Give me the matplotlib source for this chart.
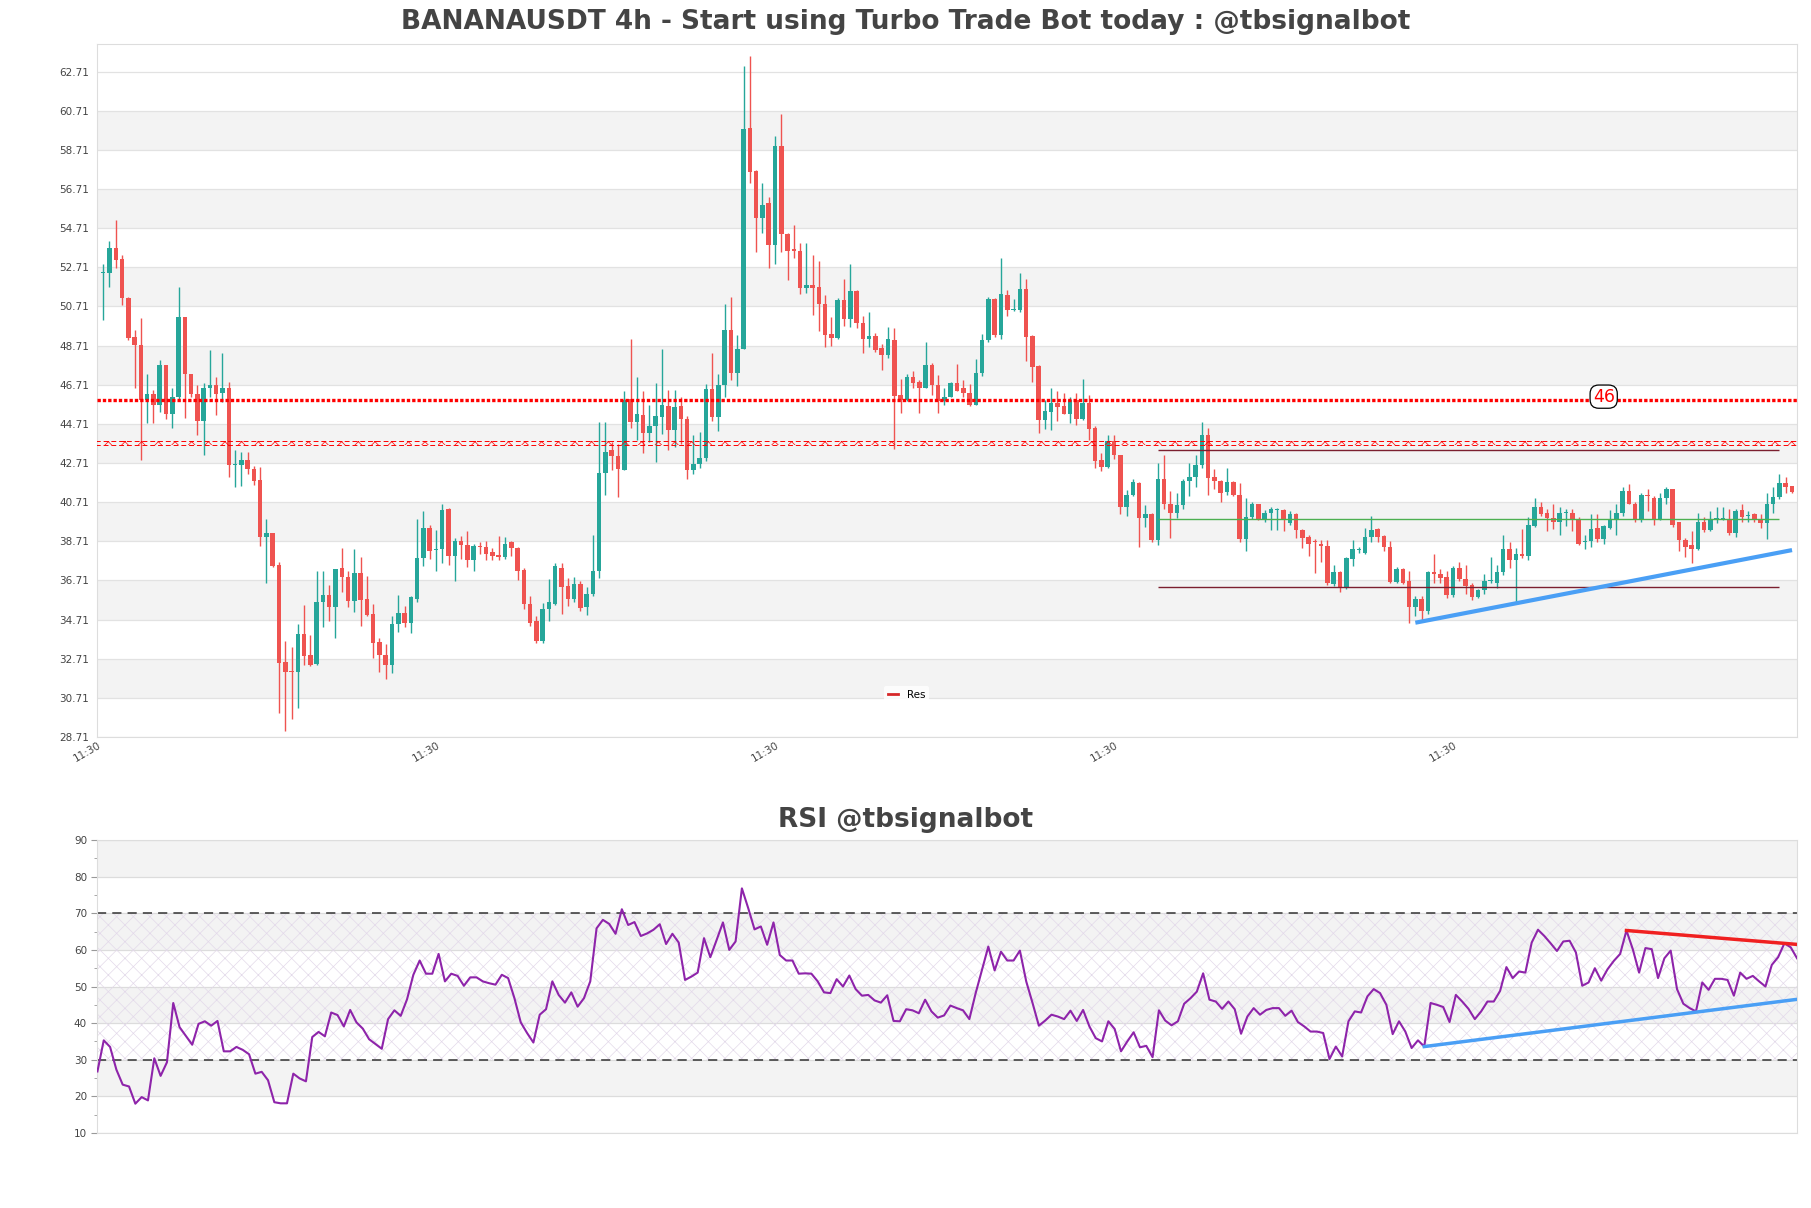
import numpy as np
import matplotlib
matplotlib.use("Agg")
from matplotlib import pyplot as plt
from matplotlib.lines import Line2D

# candle data (4h bars)
opens = [52.42, 52.42, 53.68, 53.11, 51.15, 49.14, 48.75, 45.95, 46.22, 45.65,
         47.70, 45.19, 46.06, 50.17, 47.25, 46.24, 44.88, 46.52, 46.70, 46.29,
         46.56, 42.60, 42.60, 42.87, 42.41, 41.82, 38.95, 39.13, 37.51, 32.53,
         32.08, 32.04, 33.98, 32.88, 32.42, 35.62, 35.96, 35.34, 37.33, 36.89,
         35.66, 37.10, 35.75, 35.02, 33.56, 32.88, 32.38, 34.48, 35.07, 34.55,
         35.75, 37.85, 39.40, 38.26, 38.30, 40.36, 37.97, 38.72, 38.54, 37.74,
         38.49, 38.42, 38.15, 38.03, 37.90, 38.65, 38.35, 37.26, 35.53, 34.66,
         33.63, 35.23, 35.53, 37.33, 36.44, 35.75, 36.53, 35.34, 36.03, 37.17,
         42.19, 43.37, 43.05, 42.37, 45.99, 44.81, 45.15, 44.24, 44.58, 45.06,
         45.60, 44.42, 45.60, 44.97, 42.37, 42.64, 42.98, 46.47, 45.04, 46.70,
         49.53, 47.32, 48.53, 59.84, 57.62, 55.23, 55.98, 53.86, 58.90, 54.39,
         53.63, 53.54, 51.65, 51.81, 51.72, 50.85, 49.30, 49.12, 51.03, 50.05,
         51.49, 49.87, 49.07, 49.21, 48.57, 48.23, 48.98, 46.18, 45.95, 47.09,
         46.86, 46.56, 47.74, 46.70, 45.88, 46.06, 46.79, 46.52, 46.29, 45.65,
         47.32, 48.98, 51.08, 49.25, 51.31, 50.51, 50.51, 51.60, 49.21, 47.66,
         44.92, 45.33, 45.79, 45.60, 45.22, 45.95, 44.97, 45.79, 44.51, 42.87,
         42.53, 43.83, 43.10, 40.47, 41.09, 41.69, 39.90, 40.09, 38.76, 41.89,
         40.63, 40.13, 40.54, 41.78, 42.01, 42.60, 44.12, 42.01, 41.78, 41.21,
         41.73, 41.09, 38.81, 39.95, 40.59, 39.86, 40.18, 40.32, 40.32, 39.63,
         40.09, 39.27, 38.95, 38.72, 38.58, 38.47, 36.53, 37.12, 36.30, 37.81,
         38.26, 38.12, 38.95, 39.33, 39.00, 38.42, 36.64, 37.28, 36.67, 35.34,
         35.75, 35.16, 37.12, 37.05, 36.87, 35.96, 37.33, 36.80, 36.48, 35.85,
         36.21, 36.67, 36.60, 37.12, 38.31, 37.74, 38.08, 37.97, 39.51, 40.47,
         40.13, 39.90, 39.68, 40.13, 40.18, 39.86, 38.65, 38.72, 39.40, 38.81,
         39.40, 39.86, 40.13, 41.27, 40.63, 39.79, 41.05, 40.93, 39.86, 40.93,
         41.39, 39.68, 38.76, 38.53, 38.31, 39.72, 39.27, 39.86, 39.86, 39.86,
         39.11, 40.29, 40.00, 40.09, 39.86, 39.63, 40.59, 40.99, 41.69, 41.55]
highs = [52.90, 54.04, 55.12, 53.36, 51.20, 49.53, 50.10, 47.25, 46.45, 47.98,
         47.74, 46.52, 51.70, 50.17, 47.25, 46.70, 46.79, 48.48, 47.09, 48.34,
         46.86, 43.37, 43.28, 43.28, 42.55, 42.53, 39.86, 39.13, 37.67, 33.63,
         33.29, 34.48, 35.46, 33.91, 37.17, 37.17, 36.48, 37.28, 38.38, 37.17,
         38.31, 37.90, 36.94, 35.53, 33.75, 33.48, 34.89, 35.98, 35.39, 35.91,
         39.86, 40.25, 39.56, 39.27, 40.64, 40.41, 38.88, 38.99, 39.22, 38.58,
         38.65, 38.72, 38.36, 38.99, 38.95, 38.72, 38.42, 37.35, 35.91, 34.89,
         35.57, 36.76, 37.58, 37.58, 36.83, 36.87, 36.67, 36.37, 39.04, 44.79,
         44.79, 43.78, 43.67, 46.40, 49.07, 47.09, 46.40, 45.65, 46.79, 48.53,
         46.45, 46.45, 46.06, 45.10, 44.12, 44.28, 46.75, 48.34, 47.25, 50.85,
         51.19, 49.25, 63.01, 63.51, 57.69, 57.01, 56.32, 59.40, 60.54, 54.45,
         54.86, 53.93, 53.93, 53.36, 53.02, 51.31, 50.17, 51.13, 52.11, 52.90,
         51.54, 50.21, 50.44, 49.37, 48.80, 49.67, 49.60, 47.02, 47.25, 47.43,
         46.97, 48.89, 47.84, 47.20, 46.52, 46.86, 47.77, 46.93, 46.75, 48.00,
         49.32, 51.19, 51.13, 53.20, 51.54, 51.08, 52.40, 52.11, 49.25, 47.70,
         45.95, 46.52, 46.40, 46.29, 46.06, 46.29, 47.02, 46.18, 44.58, 43.21,
         44.12, 44.12, 43.14, 41.32, 41.91, 41.73, 40.54, 40.13, 42.69, 43.14,
         41.27, 41.16, 41.91, 42.69, 43.10, 44.81, 44.51, 42.41, 41.85, 42.46,
         41.78, 41.69, 40.93, 40.70, 40.63, 40.32, 40.47, 40.41, 40.36, 40.25,
         40.13, 39.33, 39.04, 38.81, 38.76, 38.76, 37.51, 37.17, 37.90, 38.76,
         38.42, 39.40, 40.02, 39.40, 39.04, 38.72, 37.40, 37.35, 37.17, 35.91,
         35.91, 37.21, 38.08, 37.28, 37.17, 37.44, 37.67, 37.51, 36.60, 36.26,
         37.05, 37.90, 37.51, 39.04, 38.65, 38.35, 39.33, 39.95, 40.93, 40.70,
         40.36, 40.63, 40.47, 40.36, 40.36, 39.95, 39.04, 40.09, 40.09, 39.56,
         40.32, 40.59, 41.50, 41.62, 40.70, 41.16, 41.39, 41.00, 41.16, 41.50,
         41.39, 39.72, 38.88, 39.22, 40.18, 39.95, 40.25, 40.47, 40.47, 40.36,
         40.36, 40.59, 40.25, 40.18, 40.09, 41.16, 41.46, 42.14, 42.01, 41.55]
lows = [50.01, 51.72, 52.68, 50.78, 49.00, 46.52, 42.87, 44.76, 44.74, 45.33,
        44.97, 44.51, 45.99, 45.03, 46.06, 44.15, 43.10, 46.06, 45.15, 45.83,
        42.00, 41.50, 41.55, 42.14, 41.59, 38.49, 36.60, 37.40, 29.92, 29.00,
        29.64, 30.21, 32.38, 32.33, 32.38, 34.32, 34.66, 33.75, 36.14, 35.34,
        35.11, 34.36, 34.89, 32.77, 32.04, 31.65, 31.97, 34.09, 34.32, 34.02,
        35.62, 37.44, 37.81, 37.17, 37.58, 37.51, 36.67, 37.81, 37.40, 37.21,
        38.08, 37.74, 37.74, 37.74, 37.81, 37.97, 36.71, 35.23, 34.39, 33.52,
        33.52, 34.62, 35.46, 34.99, 35.39, 35.62, 35.16, 34.93, 35.91, 36.83,
        41.09, 42.37, 40.95, 42.37, 44.51, 43.90, 43.21, 43.78, 42.76, 44.19,
        43.37, 43.55, 43.67, 41.91, 42.14, 42.46, 42.82, 44.88, 44.35, 46.06,
        46.93, 46.63, 48.53, 57.01, 53.47, 54.45, 52.68, 52.86, 53.47, 52.04,
        53.18, 51.35, 51.42, 50.28, 49.44, 48.62, 48.69, 49.07, 49.71, 49.67,
        49.60, 48.34, 48.62, 48.39, 47.48, 48.07, 43.44, 45.26, 45.88, 46.52,
        45.26, 46.52, 46.18, 45.26, 45.65, 46.06, 46.40, 46.06, 45.60, 45.65,
        47.16, 48.91, 49.14, 49.07, 50.21, 50.46, 50.40, 47.93, 46.86, 44.24,
        44.47, 44.42, 44.88, 45.19, 44.74, 44.65, 44.92, 43.90, 42.46, 42.30,
        42.46, 42.92, 40.09, 40.02, 41.00, 38.42, 39.45, 38.65, 38.54, 40.36,
        38.88, 39.90, 40.36, 41.00, 41.50, 42.46, 41.09, 41.39, 40.70, 41.05,
        41.00, 38.65, 38.19, 39.86, 39.79, 39.68, 39.27, 39.27, 39.22, 39.56,
        38.88, 38.35, 37.97, 37.10, 37.67, 36.48, 36.44, 36.14, 36.26, 37.44,
        38.12, 38.08, 38.65, 38.65, 38.19, 36.60, 36.60, 36.53, 34.55, 34.89,
        34.71, 34.99, 36.60, 36.60, 35.80, 35.85, 36.67, 36.03, 35.69, 35.80,
        36.03, 36.60, 36.30, 36.98, 37.35, 35.57, 37.85, 37.74, 39.45, 40.02,
        39.22, 39.33, 39.04, 39.49, 39.22, 38.54, 38.31, 38.42, 38.65, 38.58,
        39.33, 39.04, 40.02, 40.59, 39.72, 39.72, 40.25, 39.56, 39.79, 40.59,
        39.45, 38.19, 37.90, 37.58, 38.26, 39.17, 39.22, 39.63, 39.79, 39.04,
        38.95, 39.68, 39.68, 39.68, 39.40, 38.81, 40.18, 40.86, 41.16, 41.16]
closes = [52.45, 53.68, 53.09, 51.15, 49.09, 48.75, 45.95, 46.22, 45.65, 47.70,
          45.19, 46.06, 50.17, 47.25, 46.22, 44.88, 46.52, 46.70, 46.22, 46.56,
          42.60, 42.62, 42.87, 42.41, 41.78, 38.95, 39.13, 37.44, 32.49, 32.04,
          32.04, 33.98, 32.84, 32.38, 35.62, 35.96, 35.34, 37.28, 36.89, 35.66,
          37.10, 35.73, 34.96, 33.52, 32.88, 32.38, 34.48, 35.07, 34.55, 35.85,
          37.85, 39.40, 38.19, 38.30, 40.32, 37.97, 38.72, 38.54, 37.74, 38.49,
          38.42, 38.08, 37.97, 37.90, 38.58, 38.35, 37.21, 35.53, 34.55, 33.63,
          35.23, 35.62, 37.44, 36.37, 35.75, 36.53, 35.30, 36.03, 37.17, 42.19,
          43.28, 43.05, 42.41, 45.95, 44.81, 45.19, 44.24, 44.58, 45.10, 45.65,
          44.42, 45.56, 44.97, 42.37, 42.64, 42.98, 46.47, 45.04, 46.70, 49.53,
          47.32, 48.53, 59.79, 57.58, 55.23, 55.91, 53.86, 58.90, 54.39, 53.54,
          53.54, 51.65, 51.81, 51.65, 50.85, 49.25, 49.12, 51.03, 50.05, 51.49,
          49.87, 49.07, 49.21, 48.46, 48.23, 49.03, 46.11, 45.95, 47.09, 46.79,
          46.56, 47.70, 46.70, 45.88, 46.06, 46.79, 46.40, 46.29, 45.65, 47.32,
          48.98, 51.08, 49.25, 51.35, 50.51, 50.55, 51.60, 49.14, 47.61, 44.92,
          45.38, 45.79, 45.56, 45.22, 45.95, 44.97, 45.79, 44.47, 42.82, 42.53,
          43.83, 43.10, 40.47, 41.09, 41.73, 39.90, 40.09, 38.76, 41.89, 40.63,
          40.13, 40.54, 41.78, 42.01, 42.60, 44.12, 41.96, 41.78, 41.16, 41.73,
          41.05, 38.81, 39.95, 40.59, 39.86, 40.18, 40.36, 40.36, 39.79, 40.09,
          39.27, 38.88, 38.58, 38.65, 38.47, 36.60, 37.12, 36.30, 37.85, 38.31,
          38.31, 38.95, 39.29, 38.95, 38.42, 36.64, 37.28, 36.60, 35.34, 35.75,
          35.16, 37.12, 37.05, 36.83, 35.96, 37.33, 36.76, 36.44, 35.85, 36.21,
          36.67, 36.69, 37.12, 38.31, 37.74, 38.08, 37.97, 39.56, 40.47, 40.09,
          39.90, 39.68, 40.13, 40.18, 39.86, 38.58, 38.72, 39.33, 38.81, 39.49,
          39.86, 40.13, 41.27, 40.63, 39.79, 41.05, 41.00, 39.86, 40.93, 41.39,
          39.56, 38.76, 38.42, 38.31, 39.72, 39.27, 39.86, 39.88, 39.87, 39.11,
          40.25, 39.95, 40.06, 39.86, 39.63, 40.63, 40.99, 41.69, 41.50, 41.23]

rsi = [26.8,
       35.3, 33.5, 27.3, 23.2, 22.7, 18.0, 19.8, 18.9, 30.4, 25.6,
       29.3, 45.5, 38.9, 36.5, 34.1, 39.8, 40.5, 39.3, 40.6, 32.3,
       32.3, 33.5, 32.7, 31.5, 26.2, 26.7, 24.4, 18.4, 18.1, 18.1,
       26.2, 24.9, 24.1, 36.2, 37.6, 36.4, 42.9, 42.2, 39.1, 43.6,
       40.2, 38.5, 35.6, 34.3, 33.0, 41.1, 43.5, 42.0, 46.5, 53.2,
       57.1, 53.5, 53.5, 58.9, 51.4, 53.5, 52.9, 50.2, 52.5, 52.5,
       51.4, 50.9, 50.5, 53.2, 52.3, 46.8, 40.2, 37.3, 34.7, 42.3,
       43.8, 51.4, 47.7, 45.6, 48.4, 44.5, 46.8, 51.4, 65.9, 68.2,
       67.1, 64.4, 71.1, 66.8, 67.6, 63.8, 64.5, 65.5, 67.0, 61.6,
       64.4, 62.0, 51.8,
       52.7, 53.8, 63.2, 58.0, 62.7, 67.5, 60.0, 62.3, 76.8, 71.4,
       65.6, 66.4, 61.4, 67.5, 58.6, 57.1, 57.1, 53.5, 53.6, 53.5,
       51.4, 48.4, 48.2, 52.0, 50.0, 53.0, 49.3, 47.5, 47.7, 46.2,
       45.6, 47.6, 40.6, 40.5, 43.8, 43.5, 42.7, 46.4, 43.2, 41.5,
       42.1, 44.8, 44.1, 43.5, 41.1, 48.2, 54.5, 60.9, 54.4, 59.5,
       57.1, 57.1, 59.8, 51.4, 45.5, 39.3, 40.7, 42.3, 41.8, 41.1,
       43.4, 40.6, 43.6, 39.1, 35.9, 35.0, 40.5, 38.4, 32.3, 35.0,
       37.5, 33.4, 33.8, 30.7, 43.5, 40.7, 39.4, 40.5, 45.3, 46.8,
       48.6, 53.6, 46.4, 45.9, 43.9, 45.9, 43.8, 37.1, 41.8, 44.1,
       42.3, 43.6, 44.1, 44.1,
       42.0, 43.4, 40.3, 39.1, 37.7, 37.7, 37.3, 30.2, 33.6, 30.9,
       40.5, 43.2, 42.9, 47.3, 49.3, 48.2, 45.0, 37.0, 40.5, 37.7,
       33.2, 35.3, 33.6, 45.5, 45.0, 44.4, 40.3, 47.7, 45.9, 43.9,
       41.1, 43.2, 45.9, 45.9, 48.8, 55.3, 52.3, 54.1, 53.8, 62.0,
       65.5, 63.8, 61.8, 59.7, 62.3, 62.5, 59.3, 50.2, 51.1, 55.0,
       51.6, 54.7, 57.0, 58.9, 65.3, 60.2, 53.8, 60.5, 60.2, 52.3,
       57.7, 59.8, 49.3, 45.3, 44.1, 43.2, 51.1, 49.1, 52.1, 52.1,
       51.8, 47.5, 53.8, 52.1, 52.9, 51.4, 50.0, 55.9, 58.0, 61.8,
       60.7, 57.7]

price_ticks = [28.71, 30.71, 32.71, 34.71, 36.71, 38.71, 40.71, 42.71, 44.71,
               46.71, 48.71, 50.71, 52.71, 54.71, 56.71, 58.71, 60.71, 62.71]
time_ticks = [0, 54, 108, 162, 216]
time_labels = ["11:30", "11:30", "11:30", "11:30", "11:30"]
rsi_ticks = [10, 20, 30, 40, 50, 60, 70, 80, 90]

# levels and trend lines
res_level = 45.95
res_label = "46"
res2_level = 43.71
box_top, box_mid, box_bot = 43.37, 39.86, 36.37
box_start, box_end = 168, 267
trend_x = [209, 269]
trend_y = [34.55, 38.26]
rsi_up_x = [210, 269]
rsi_up_y = [33.6, 46.5]
rsi_dn_x = [242, 269]
rsi_dn_y = [65.3, 61.5]

GREEN = "#26a69a"
RED = "#ef5350"

plt.rcParams['hatch.linewidth'] = 0.5

fig = plt.figure(figsize=(18.11, 12.08), dpi=100)
ax = fig.add_axes([0.0538, 0.3899, 0.9385, 0.5737])
ax2 = fig.add_axes([0.0538, 0.0621, 0.9385, 0.2425])

x = np.arange(len(closes))
o = np.array(opens)
c = np.array(closes)
up = c >= o
cols = np.where(up, GREEN, RED)

#background bands + grid
for i in range(1, len(price_ticks) - 1, 2):
    ax.axhspan(price_ticks[i], price_ticks[i + 1], color="#f3f3f3", zorder=0, lw=0)
for t in price_ticks:
    ax.axhline(t, color="#e2e2e2", lw=0.9, zorder=0.5)

#candles
ax.vlines(x, lows, highs, colors=cols, lw=1.0, zorder=2)
body = np.maximum(np.abs(c - o), 0.06)
ax.bar(x, body, bottom=np.minimum(o, c), width=0.72, color=cols, lw=0, zorder=3)

#resistance lines
ax.axhline(res_level, color="red", lw=2.4, ls=(0, (1, 0.6)), zorder=4)
ax.fill_between([-5, 300], res2_level - 0.1, res2_level + 0.1, facecolor="none",
                edgecolor="red", hatch="xx", lw=0, zorder=4)
ax.hlines([res2_level - 0.1, res2_level + 0.1], -5, 300, colors="red", lw=0.7,
          linestyles=(0, (5, 3)), zorder=4)
ax.text(239, res_level + 0.15, res_label, color="red", fontsize=12.5, ha="center",
        va="center", zorder=6,
        bbox=dict(boxstyle="round,pad=0.15,rounding_size=0.5", fc="white", ec="black", lw=0.9))

ax.hlines([box_top, box_bot], box_start, box_end, colors="#7b1f2f", lw=1.0, zorder=4)
ax.hlines(box_mid, box_start, box_end, colors="#4caf50", lw=1.0, zorder=4)
ax.plot(trend_x, trend_y, color="#4a9ff5", lw=3, solid_capstyle="butt", zorder=5)

ax.set_xlim(-0.92, 269.8)
ax.set_ylim(28.71, 64.12)
ax.set_yticks(price_ticks)
ax.set_yticklabels(["%.2f" % t for t in price_ticks])
ax.set_xticks(time_ticks)
ax.set_xticklabels(time_labels, rotation=30, ha="right")
ax.tick_params(axis="y", length=0, labelsize=7.5, colors="#444444", pad=6)
ax.tick_params(axis="x", length=0, labelsize=7.5, colors="#444444", pad=2)
for s in ax.spines.values():
    s.set_color("#dddddd")

leg_handle = Line2D([0], [0], color="#d62728", lw=2)
leg = ax.legend([leg_handle], ["Res"], loc="lower center", bbox_to_anchor=(0.476, 0.04),
                fontsize=7.5, frameon=True, handlelength=1.0)
leg.get_frame().set_edgecolor("none")
leg.get_frame().set_facecolor("white")

#RSI panel
xr = np.arange(len(rsi))
for lo_, hi_ in [(20, 30), (40, 50), (60, 70), (80, 90)]:
    ax2.axhspan(lo_, hi_, color="#f3f3f3", zorder=0, lw=0)
for t in rsi_ticks:
    ax2.axhline(t, color="#dcdcdc", lw=0.9, zorder=0.5)
ax2.fill_between([-5, 300], 30, 70, facecolor="none", edgecolor="#e3d9ea", hatch="xx",
                 lw=0, zorder=1)
ax2.axhline(70, color="#333333", lw=1.1, ls=(0, (6, 4)), zorder=2)
ax2.axhline(30, color="#333333", lw=1.1, ls=(0, (6, 4)), zorder=2)
ax2.plot(xr, rsi, color="#8e24aa", lw=1.5, zorder=3)
ax2.plot(rsi_up_x, rsi_up_y, color="#4a9ff5", lw=2.5, zorder=4)
ax2.plot(rsi_dn_x, rsi_dn_y, color="#f02020", lw=2.5, zorder=4)

ax2.set_xlim(0, 269)
ax2.set_ylim(10, 90)
ax2.set_yticks(rsi_ticks)
ax2.set_yticks([15, 25, 35, 45, 55, 65, 75, 85], minor=True)
ax2.set_xticks([])
ax2.tick_params(axis="y", which="major", length=4, labelsize=7.5, colors="#444444",
                color="#999999")
ax2.tick_params(axis="y", which="minor", length=2.5, color="#999999")
for s in ax2.spines.values():
    s.set_color("#dddddd")

fig.text(0.5, 1 - 22 / 1208, "BANANAUSDT 4h - Start using Turbo Trade Bot today : @tbsignalbot",
         ha="center", va="center", fontsize=19, fontweight="bold", color="#444444")
fig.text(0.5, 1 - 820 / 1208, "RSI @tbsignalbot", ha="center", va="center",
         fontsize=19, fontweight="bold", color="#444444")

fig.savefig("out.png", dpi=100)
